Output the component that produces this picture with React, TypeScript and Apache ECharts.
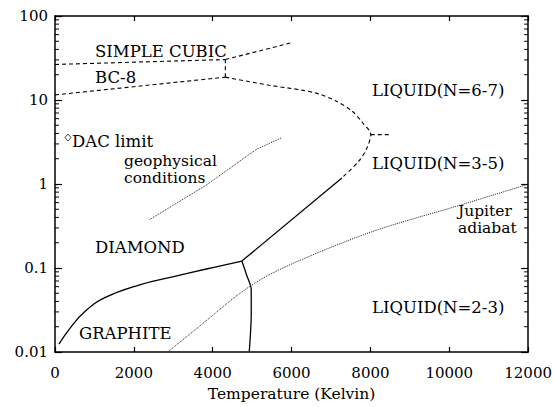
import React, { useEffect, useRef } from "react";
import * as echarts from "echarts";

// ---- Data (Temperature in K, Pressure in Mbar) ----
const xTickValues = [0, 2000, 4000, 6000, 8000, 10000, 12000];
const yTickValues = [0.01, 0.1, 1, 10, 100];

const scBc8T = [0, 4320];
const scBc8P = [26.5, 30.3];

const scLiquidT = [4320, 5990];
const scLiquidP = [30.3, 48];

const bc8DiamondT = [0, 4320];
const bc8DiamondP = [11.5, 18.7];

const bc8TripleT = [4320, 4320];
const bc8TripleP = [18.7, 30.3];

const liquidBoundaryT = [4320, 5431, 6265, 6695, 7124, 7528, 7781, 8008, 7907, 7705, 7276];
const liquidBoundaryP = [18.7, 15.0, 13.1, 11.8, 9.73, 7.43, 5.51, 3.87, 2.65, 1.87, 1.18];

const liquidSplitT = [8008, 8510];
const liquidSplitP = [3.87, 3.87];

const diamondMeltT = [7276, 4740];
const diamondMeltP = [1.18, 0.121];

const graphiteDiamondT = [100, 379, 758, 1263, 2147, 2981, 3840, 4740];
const graphiteDiamondP = [0.0124, 0.0191, 0.0303, 0.0443, 0.063, 0.0783, 0.0973, 0.121];

const graphiteMeltT = [4740, 4850, 4977, 4977, 4926];
const graphiteMeltP = [0.121, 0.085, 0.055, 0.0288, 0.01];

const jupiterT = [2855, 3663, 4674, 5431, 6695, 8210, 10307, 11924, 12000];
const jupiterP = [0.01, 0.0202, 0.0494, 0.083, 0.154, 0.288, 0.566, 0.97, 1.0];

const geophysT = [2400, 3840, 5103, 5760];
const geophysP = [0.377, 0.973, 2.58, 3.57];

const dacT = [328];
const dacP = [3.57];

const minorTickValues: number[] = [];
[0.01, 0.1, 1, 10].forEach((d) => {
  for (let m = 2; m <= 9; m++) minorTickValues.push(+(d * m).toPrecision(3));
});

const zip = (a: number[], b: number[]) => a.map((v, i) => [v, b[i]]);

const FONT = "DejaVu Serif";
const TICK_FS = 15;
const SOLID = { color: "#000", width: 1.3, type: "solid" as const };
const DASHED = { color: "#000", width: 1.1, type: [4, 3] as any };
const DOTTED = { color: "#222", width: 1, type: [1, 1] as any };

function lineSeries(T: number[], P: number[], style: any, smooth: number | boolean = false) {
  return {
    type: "line",
    data: zip(T, P),
    showSymbol: false,
    symbol: "none",
    smooth,
    lineStyle: style,
    silent: true,
    clip: true,
  };
}

function fmtY(v: number) {
  if (v >= 1) return String(Math.round(v));
  return String(parseFloat(v.toPrecision(2)));
}

const texts = [
  { t: "SIMPLE CUBIC", x: 95, y: 51.5, fs: 16.5 },
  { t: "BC-8", x: 95, y: 77.5, fs: 16.5 },
  { t: "DAC limit", x: 72, y: 141.5, fs: 16.5 },
  { t: "geophysical", x: 124, y: 161, fs: 15.5 },
  { t: "conditions", x: 124, y: 178, fs: 15.5 },
  { t: "DIAMOND", x: 95, y: 247, fs: 16.5 },
  { t: "GRAPHITE", x: 79, y: 333, fs: 16.5 },
  { t: "LIQUID(N=6-7)", x: 372, y: 90, fs: 16.5 },
  { t: "LIQUID(N=3-5)", x: 372, y: 163, fs: 16.5 },
  { t: "LIQUID(N=2-3)", x: 372, y: 307, fs: 16.5 },
  { t: "Jupiter", x: 458, y: 211, fs: 15.5 },
  { t: "adiabat", x: 458, y: 228, fs: 15.5 },
];

export default function App() {
  const ref = useRef<HTMLDivElement>(null);
  useEffect(() => {
    if (!ref.current) return;
    const chart = echarts.init(ref.current, null, { renderer: "svg" });
    const axisLine = { show: true, onZero: false, lineStyle: { color: "#000", width: 1.5 } };
    const option: any = {
      animation: false,
      backgroundColor: "#fff",
      textStyle: { fontFamily: FONT },
      grid: { left: 55, right: 25, top: 16, bottom: 51, containLabel: false },
      xAxis: [
        {
          type: "value",
          position: "bottom",
          min: xTickValues[0],
          max: xTickValues[xTickValues.length - 1],
          interval: 2000,
          axisLine,
          axisTick: { show: true, inside: true, length: 5, lineStyle: { color: "#000", width: 1.2 } },
          axisLabel: {
            show: true,
            margin: 13,
            color: "#000",
            fontFamily: FONT,
            fontSize: TICK_FS,
            formatter: (v: number) => String(v),
          },
          splitLine: { show: false },
          name: "Temperature (Kelvin)",
          nameLocation: "middle",
          nameGap: 34,
          nameTextStyle: { color: "#000", fontFamily: FONT, fontSize: 15.5 },
        },
        {
          type: "value",
          position: "top",
          min: xTickValues[0],
          max: xTickValues[xTickValues.length - 1],
          interval: 2000,
          axisLine,
          axisTick: { show: true, inside: true, length: 5, lineStyle: { color: "#000", width: 1.2 } },
          axisLabel: { show: false },
          splitLine: { show: false },
        },
      ],
      yAxis: [
        {
          type: "log",
          logBase: 10,
          position: "left",
          min: yTickValues[0],
          max: yTickValues[yTickValues.length - 1],
          axisLine,
          axisTick: { show: true, inside: true, length: 7, lineStyle: { color: "#000", width: 1.2 } },
          axisLabel: {
            show: true,
            margin: 7,
            color: "#000",
            fontFamily: FONT,
            fontSize: TICK_FS,
            formatter: (v: number) => fmtY(v),
          },
          splitLine: { show: false },
        },
        {
          type: "log",
          logBase: 10,
          position: "right",
          min: yTickValues[0],
          max: yTickValues[yTickValues.length - 1],
          axisLine,
          axisTick: { show: true, inside: true, length: 7, lineStyle: { color: "#000", width: 1.2 } },
          axisLabel: { show: false },
          splitLine: { show: false },
        },
      ],
      series: [
        lineSeries(scBc8T, scBc8P, DASHED),
        lineSeries(scLiquidT, scLiquidP, DASHED),
        lineSeries(bc8DiamondT, bc8DiamondP, DASHED),
        lineSeries(bc8TripleT, bc8TripleP, DASHED),
        lineSeries(liquidBoundaryT, liquidBoundaryP, DASHED, 0.3),
        lineSeries(liquidSplitT, liquidSplitP, DASHED),
        lineSeries(diamondMeltT, diamondMeltP, SOLID),
        lineSeries(graphiteDiamondT, graphiteDiamondP, SOLID, 0.45),
        lineSeries(graphiteMeltT, graphiteMeltP, SOLID, 0.3),
        lineSeries(jupiterT, jupiterP, DOTTED, 0.3),
        lineSeries(geophysT, geophysP, DOTTED),
        {
          type: "scatter",
          data: zip(dacT, dacP),
          symbol: "diamond",
          symbolSize: [6, 7],
          itemStyle: { color: "#fff", borderColor: "#000", borderWidth: 0.9 },
          silent: true,
        },
        {
          type: "custom",
          data: minorTickValues.map((v) => [xTickValues[0], v]),
          silent: true,
          clip: false,
          renderItem: (_params: any, api: any) => {
            const v = api.value(1);
            const l = api.coord([xTickValues[0], v]);
            const r = api.coord([xTickValues[xTickValues.length - 1], v]);
            const st = { stroke: "#000", lineWidth: 1 };
            return {
              type: "group",
              children: [
                { type: "line", shape: { x1: l[0], y1: l[1], x2: l[0] + 4, y2: l[1] }, style: st },
                { type: "line", shape: { x1: r[0] - 4, y1: r[1], x2: r[0], y2: r[1] }, style: st },
              ],
            };
          },
        },
      ],
      graphic: texts.map((d) => ({
        type: "text",
        x: d.x,
        y: d.y,
        silent: true,
        style: {
          text: d.t,
          fill: "#000",
          fontFamily: FONT,
          fontSize: d.fs,
          align: "left",
          verticalAlign: "middle",
        },
      })),
    };
    chart.setOption(option);
    return () => chart.dispose();
  }, []);
  return (
    <div
      ref={ref}
      style={{ position: "fixed", left: 0, top: 0, width: 555, height: 407, background: "#fff" }}
    />
  );
}
